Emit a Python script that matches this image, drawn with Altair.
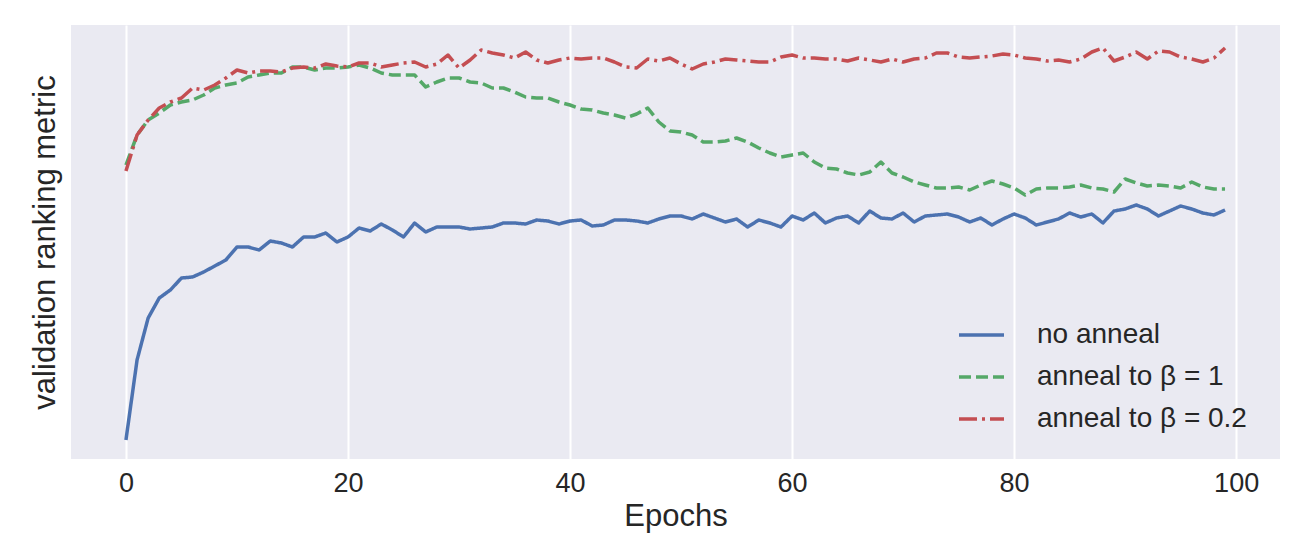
import altair as alt
import pandas as pd

epochs = list(range(100))

no_anneal = [19, 99, 141, 161, 169, 181, 182, 187, 193, 199,
             212, 212, 209, 218, 216, 212, 222, 222, 226, 217,
             222, 231, 228, 235, 229, 222, 236, 227, 232, 232,
             232, 230, 231, 232, 236, 236, 235, 239, 238, 235,
             238, 239, 233, 234, 239, 239, 238, 236, 240, 243,
             243, 240, 245, 241, 237, 240, 232, 239, 236, 232,
             243, 239, 246, 236, 241, 243, 236, 248, 241, 240,
             246, 237, 243, 244, 245, 242, 237, 241, 234, 240,
             245, 241, 234, 237, 240, 246, 242, 245, 236, 248,
             250, 254, 250, 243, 248, 253, 250, 246, 244, 249]

anneal_beta_1 = [294, 324, 339, 346, 354, 357, 359, 364, 371, 374,
                 376, 382, 384, 386, 386, 392, 392, 389, 391, 391,
                 392, 394, 391, 386, 384, 384, 384, 372, 377, 381,
                 381, 377, 376, 371, 371, 367, 362, 361, 361, 357,
                 354, 350, 349, 346, 344, 341, 345, 351, 337, 328,
                 327, 324, 317, 317, 318, 321, 317, 311, 306, 302,
                 304, 306, 297, 291, 290, 286, 284, 287, 297, 286,
                 282, 277, 274, 271, 271, 272, 269, 274, 278, 275,
                 271, 264, 270, 271, 271, 272, 274, 271, 270, 267,
                 280, 276, 273, 274, 273, 271, 277, 272, 270, 270]

anneal_beta_02 = [288, 324, 339, 351, 357, 361, 371, 369, 374, 381,
                  389, 386, 388, 388, 387, 391, 392, 391, 395, 393,
                  392, 396, 396, 392, 394, 396, 397, 392, 395, 404,
                  391, 399, 409, 406, 404, 401, 407, 399, 396, 399,
                  401, 400, 401, 401, 397, 392, 391, 400, 398, 401,
                  395, 390, 395, 397, 400, 399, 398, 397, 397, 402,
                  404, 401, 401, 400, 400, 398, 401, 399, 397, 400,
                  397, 400, 401, 406, 406, 402, 401, 402, 403, 405,
                  404, 401, 400, 398, 399, 397, 400, 407, 411, 398,
                  402, 407, 400, 408, 407, 402, 400, 397, 401, 411]

series_names = ["no anneal", "anneal to β = 1", "anneal to β = 0.2"]
series_colors = ["#4C72B0", "#55A868", "#C44E52"]
series_dashes = [[1, 0], [12, 5], [18, 5, 3, 5]]
x_ticks = [0, 20, 40, 60, 80, 100]

rows = []
for name, vals in zip(series_names, [no_anneal, anneal_beta_1, anneal_beta_02]):
    for e, v in zip(epochs, vals):
        rows.append({"epoch": e, "metric": v, "series": name})
df = pd.DataFrame(rows)

FONT = "Liberation Sans"
TXT = "#262626"


def make_legend():
    return alt.Legend(orient="none", legendX=896.5, legendY=296,
                      symbolType="M-2.25,0H2.25", symbolSize=400,
                      symbolStrokeWidth=3.5, labelFontSize=28,
                      labelColor=TXT, labelFont=FONT, labelOffset=41.5,
                      rowPadding=14, padding=0, labelLimit=400)


chart = alt.Chart(df).mark_line(strokeWidth=3.5, strokeCap="butt", strokeJoin="round").encode(
    x=alt.X("epoch:Q",
            scale=alt.Scale(domain=[-4.95, 103.95], nice=False, zero=False),
            axis=alt.Axis(values=x_ticks, title="Epochs", grid=True, gridColor="white",
                          gridWidth=2, ticks=False, domain=False, labelFontSize=27,
                          labelColor=TXT, labelPadding=11, titleFontSize=31,
                          titleFontWeight="normal", titleColor=TXT, titlePadding=5,
                          labelFont=FONT, titleFont=FONT, format="d")),
    y=alt.Y("metric:Q",
            scale=alt.Scale(domain=[0, 434], nice=False, zero=False),
            axis=alt.Axis(title="validation ranking metric", labels=False, ticks=False,
                          domain=False, grid=False, titleFontSize=31, titleFontWeight="normal",
                          titleColor=TXT, titlePadding=10, titleFont=FONT)),
    color=alt.Color("series:N", title=None,
                    scale=alt.Scale(domain=series_names, range=series_colors),
                    sort=series_names, legend=make_legend()),
    strokeDash=alt.StrokeDash("series:N", title=None,
                              scale=alt.Scale(domain=series_names, range=series_dashes),
                              sort=series_names, legend=make_legend()),
).properties(
    width=1209,
    height=434,
    autosize=alt.AutoSizeParams(type="none"),
    padding={"left": 63, "top": 17, "right": 11, "bottom": 79},
    background="white",
).configure_view(
    fill="#EAEAF2", stroke=None
)

chart.save("out.html", embed_options={"renderer": "svg", "actions": False})
